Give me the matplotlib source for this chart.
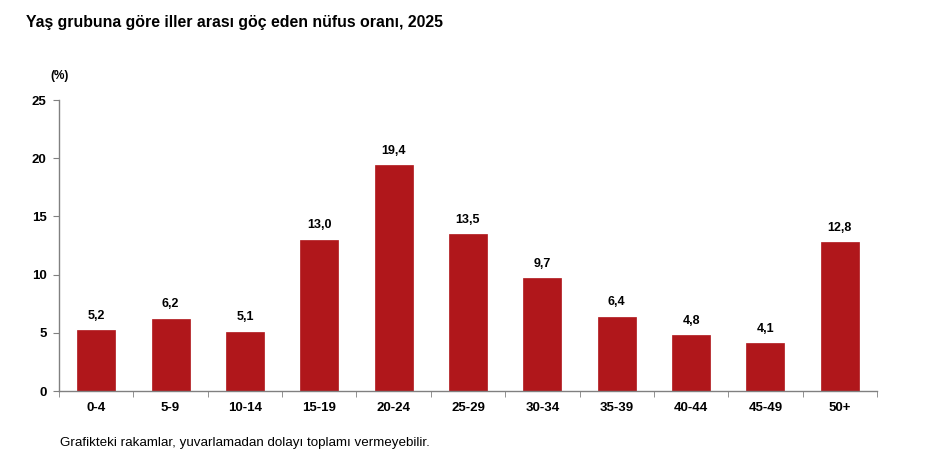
import matplotlib
matplotlib.use("Agg")
import matplotlib.pyplot as plt

categories = ["0-4", "5-9", "10-14", "15-19", "20-24", "25-29", "30-34", "35-39", "40-44", "45-49", "50+"]
values = [5.2, 6.2, 5.1, 13.0, 19.4, 13.5, 9.7, 6.4, 4.8, 4.1, 12.8]
yticks = [0, 5, 10, 15, 20, 25]

plt.rcParams['font.family'] = ['Liberation Sans', 'DejaVu Sans']

fig = plt.figure(figsize=(9.4, 4.71), dpi=100)
ax = fig.add_axes([59/940, 1-391/471, (877-59)/940, (391-100)/471])

x = list(range(len(categories)))
ax.bar(x, values, width=0.51, color="#B0171B", edgecolor="#B0171B", linewidth=0.5)
for xi, v in zip(x, values):
    ax.annotate(f"{v:.1f}".replace(".", ","), (xi, v), xytext=(0, 6), textcoords="offset points",
                ha="center", va="bottom", fontsize=9, fontweight="bold")

ax.set_xlim(-0.5, len(categories) - 0.5)
ax.set_ylim(0, 25)
ax.set_yticks(yticks)
ax.set_yticklabels([str(t) for t in yticks], fontsize=9.5, fontweight="bold")
ax.set_xticks(x)
ax.set_xticklabels(categories, fontsize=9.5, fontweight="bold")
ax.tick_params(axis="x", length=0, pad=8)
ax.set_xticks([i - 0.5 for i in range(len(categories) + 1)], minor=True)
ax.tick_params(axis="x", which="minor", length=4, color="#808080")
ax.tick_params(axis="y", length=4, color="#808080", pad=5)
for s in ["top", "right"]:
    ax.spines[s].set_visible(False)
for s in ["left", "bottom"]:
    ax.spines[s].set_color("#808080")
    ax.spines[s].set_linewidth(1)

fig.text(26/940, 1-22/471, "Yaş grubuna göre iller arası göç eden nüfus oranı, 2025",
         fontsize=11.4, fontweight="bold", ha="left", va="center")
fig.text(60/940, 1-76/471, "(%)", fontsize=8.5, fontweight="bold", ha="center", va="center")
fig.text(60/940, 1-443/471, "Grafikteki rakamlar, yuvarlamadan dolayı toplamı vermeyebilir.",
         fontsize=9.6, ha="left", va="center")

fig.savefig("out.png", dpi=100)
